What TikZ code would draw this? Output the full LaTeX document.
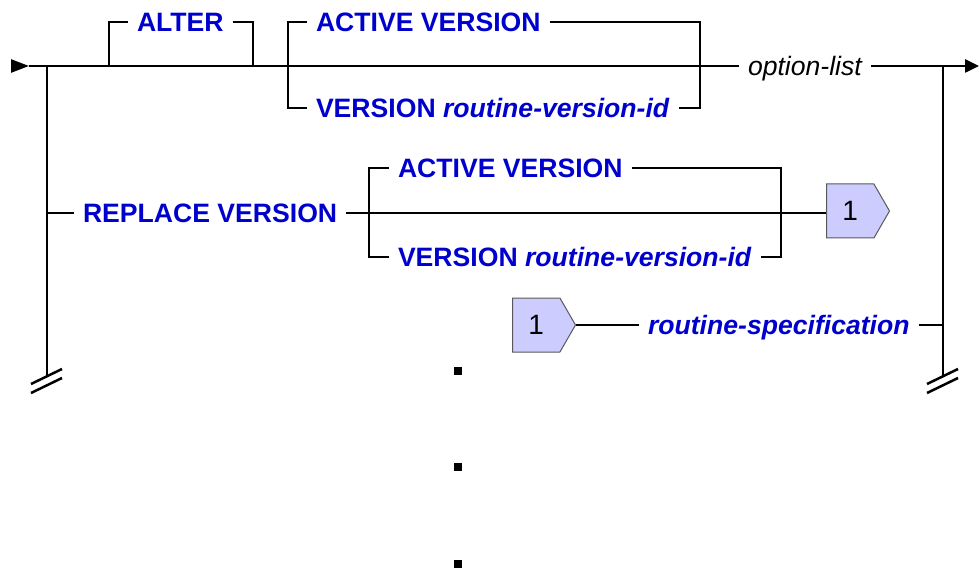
\documentclass[tikz,border=0pt]{standalone}
\usepackage{fontspec}
\setmainfont{Liberation Sans}
\usetikzlibrary{positioning,shapes.symbols,arrows.meta}
\definecolor{kwblue}{RGB}{0,0,204}
\definecolor{refill}{RGB}{204,204,255}
\tikzset{
  rail/.style={line width=1.25pt},
  kw/.style={anchor=west,inner sep=0pt,outer sep=4.5pt,text height=9.5pt,text depth=0pt,
    font=\fontsize{13.3}{16}\selectfont\bfseries,text=kwblue},
  opt/.style={kw,font=\fontsize{13.3}{16}\selectfont\itshape,text=black},
  ref/.style={shape=signal,signal to=east,signal pointer angle=120,draw=black!65,line width=0.5pt,
    fill=refill,minimum width=31.5pt,minimum height=27pt,inner sep=0pt,anchor=west,
    font=\fontsize{14}{16}\selectfont},
}
\begin{document}
\begin{tikzpicture}[x=0.5pt,y=-0.5pt,rail]
\useasboundingbox (0,0) rectangle (979,572);
\coordinate (in) at (11,66);
\coordinate (out) at (979,66);
\coordinate (lb) at (47,377);
\coordinate (rb) at (943,377);
%
\node[kw] (alter) at (128,22) {ALTER};
\node[kw] (activeA) at (307,22) {ACTIVE VERSION};
\node[kw] (verA) at (307,108) {VERSION \textit{routine-version-id}};
\node[opt] (optlist) at (739,66) {option-list};
\node[kw] (replace) at (74,213) {REPLACE VERSION};
\node[kw] (activeB) at (389,168) {ACTIVE VERSION};
\node[kw] (verB) at (389,257) {VERSION \textit{routine-version-id}};
\node[ref] (sig1) at (826,211) {1};
\node[ref] (sig2) at (512,325) {1};
\node[kw,font=\fontsize{13.3}{16}\selectfont\bfseries\itshape] (rspec) at (639,325) {routine-specification};
%
\draw[-{Triangle[length=9pt,width=6.5pt]}] (in) -- (29,66);
\draw (29,66) -- (optlist.west);
\draw[-{Triangle[length=7pt,width=6.5pt]}] (optlist.east) -- (out);
\draw (109,66) |- (alter.west);
\draw (alter.east) -| (253,66);
\draw (activeA.west) -| (288,108) -- (verA.west);
\draw (activeA.east) -| (700,108) -- (verA.east);
%
\draw (47,66) -- (lb);
\draw (replace.west -| lb) -- (replace.west);
\draw (replace.east) -- (replace.east -| sig1.west);
\draw (activeB.west) -| (369,257) -- (verB.west);
\draw (activeB.east) -| (781,257) -- (verB.east);
%
\draw (sig2.east) -- (rspec.west);
\draw (rspec.east) -- (rspec.east -| rb);
\draw (943,66) -- (rb);
%
\foreach \p in {lb,rb}{
  \draw ([shift={(-16,7)}]\p) -- ([shift={(15,-8)}]\p);
  \draw ([shift={(-16,16)}]\p) -- ([shift={(15,1)}]\p);
}
\foreach \y in {371,467,564}
  \fill (454,\y-4) rectangle (462,\y+4);
\end{tikzpicture}
\end{document}
